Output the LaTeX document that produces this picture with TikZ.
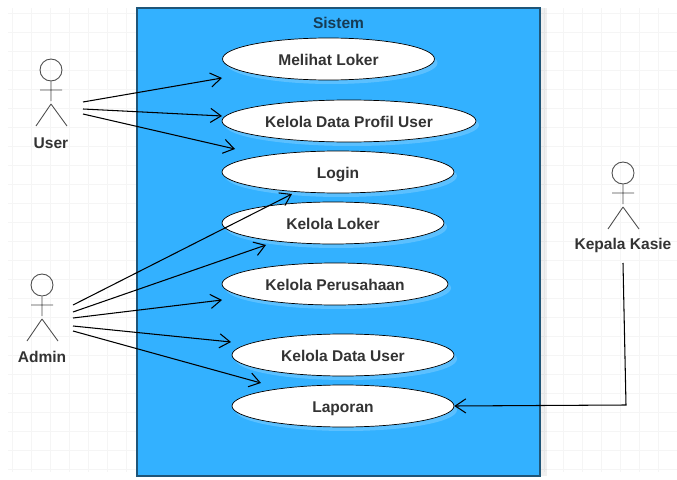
\documentclass[tikz,border=0pt]{standalone}
\usepackage{fontspec}
\usepackage{xcolor}
\setmainfont{Liberation Sans}
\usetikzlibrary{shapes, arrows.meta, shadows}

\definecolor{sistemblue}{HTML}{33B1FF}
\definecolor{sistemedge}{HTML}{1F5578}
\definecolor{labelgrey}{HTML}{333333}

\tikzset{
    usecase/.style={ellipse, draw=black, fill=white, inner sep=0pt, minimum height=.84cm,
        text=labelgrey, text height=7.5pt, text depth=0pt, font=\bfseries\fontsize{8.85}{10}\selectfont,
        drop shadow={shadow xshift=.06cm, shadow yshift=-.08cm, fill=white, opacity=.2}},
    actorlabel/.style={text=labelgrey, inner sep=0pt, font=\bfseries\fontsize{8.85}{10}\selectfont},
    assoc/.style={-{Straight Barb[length=6pt, width=8pt]}, black, line width=.6pt},
    actorpart/.style={draw=black!70, line width=.5pt},
    actor/.pic={
        \node[circle, actorpart, minimum size=.44cm, inner sep=0pt] (-head) at (0, 0) {};
        \draw[actorpart] (-head) to (0, 31)
            (-11, 20) to (11, 20)
            (0, 34) to (-15, 56)
            (0, 34) to (16, 56);
    }
}

\begin{document}
\begin{tikzpicture}[x=.02cm, y=-.02cm]
        \useasboundingbox (0, 0) rectangle (677, 480);

        % background grid
        \foreach \gx in {12, 31, ..., 126, 145, 164, 183, 202, 221, 240, 259, 278, 297, 316, 335, 354, 373, 392, 411, 430, 449, 468, 487, 506, 525, 544, 563, 582, 601, 620, 639, 658, 677}
            \draw[black!4, line width=.3pt] (\gx, 8) to (\gx, 472);
        \foreach \gy in {13, 32, ..., 470}
            \draw[black!4, line width=.3pt] (8, \gy) to (677, \gy);

        % system box
        \node[draw=sistemedge, fill=sistemblue, line width=.7pt, inner sep=0pt, minimum width=8.06cm, minimum height=9.36cm,
            drop shadow={shadow xshift=.14cm, shadow yshift=0cm, fill=black, opacity=.06}] (sistem) at (338.5, 242) {};
        \node[text=sistemedge!70!black, inner sep=0pt, font=\bfseries\fontsize{8.85}{10}\selectfont] (sistemlabel) at (338.5, 23) {Sistem};

        % use cases
        \node[usecase, minimum width=4.24cm] (melihat) at (328.5, 59) {Melihat Loker};
        \node[usecase, minimum width=5.08cm] (profil) at (349, 121) {Kelola Data Profil User};
        \node[usecase, minimum width=4.64cm] (login) at (338, 172) {Login};
        \node[usecase, minimum width=4.44cm] (loker) at (333, 223) {Kelola Loker};
        \node[usecase, minimum width=4.52cm] (perusahaan) at (335, 284) {Kelola Perusahaan};
        \node[usecase, minimum width=4.44cm] (datauser) at (343, 355) {Kelola Data User};
        \node[usecase, minimum width=4.44cm] (laporan) at (343, 406) {Laporan};

        % actors
        \pic (user) at (51, 70) {actor};
        \pic (admin) at (42, 285) {actor};
        \pic (kasie) at (623, 173) {actor};
        \node[actorlabel] (userlabel) at (51, 143) {User};
        \node[actorlabel] (adminlabel) at (42, 357) {Admin};
        \node[actorlabel] (kasielabel) at (623, 245) {Kepala Kasie};

        % free ends of the associations
        \coordinate (u1) at (83, 102);
        \coordinate (u2) at (83, 109);
        \coordinate (u3) at (83, 114);
        \coordinate (a1) at (73, 305);
        \coordinate (a2) at (73, 312);
        \coordinate (a3) at (73, 318);
        \coordinate (a4) at (73, 326);
        \coordinate (a5) at (73, 331);
        \coordinate (k1) at (623, 263);
        \coordinate (k2) at (626, 405);
        \coordinate (melihatend) at (222, 78);
        \coordinate (profilend) at (222, 116);
        \coordinate (loginend) at (235, 149);
        \coordinate (loginend2) at (292, 194);
        \coordinate (lokerend) at (266, 245);
        \coordinate (perusahaanend) at (222, 300);
        \coordinate (datauserend) at (231, 342);
        \coordinate (laporanend) at (261, 383);

        \draw[assoc] (u1) to (melihatend);
        \draw[assoc] (u2) to (profilend);
        \draw[assoc] (u3) to (loginend);
        \draw[assoc] (a1) to (loginend2);
        \draw[assoc] (a2) to (lokerend);
        \draw[assoc] (a3) to (perusahaanend);
        \draw[assoc] (a4) to (datauserend);
        \draw[assoc] (a5) to (laporanend);
        \draw[assoc] (k1) to (k2) to (laporan.east);
    \end{tikzpicture}
\end{document}
